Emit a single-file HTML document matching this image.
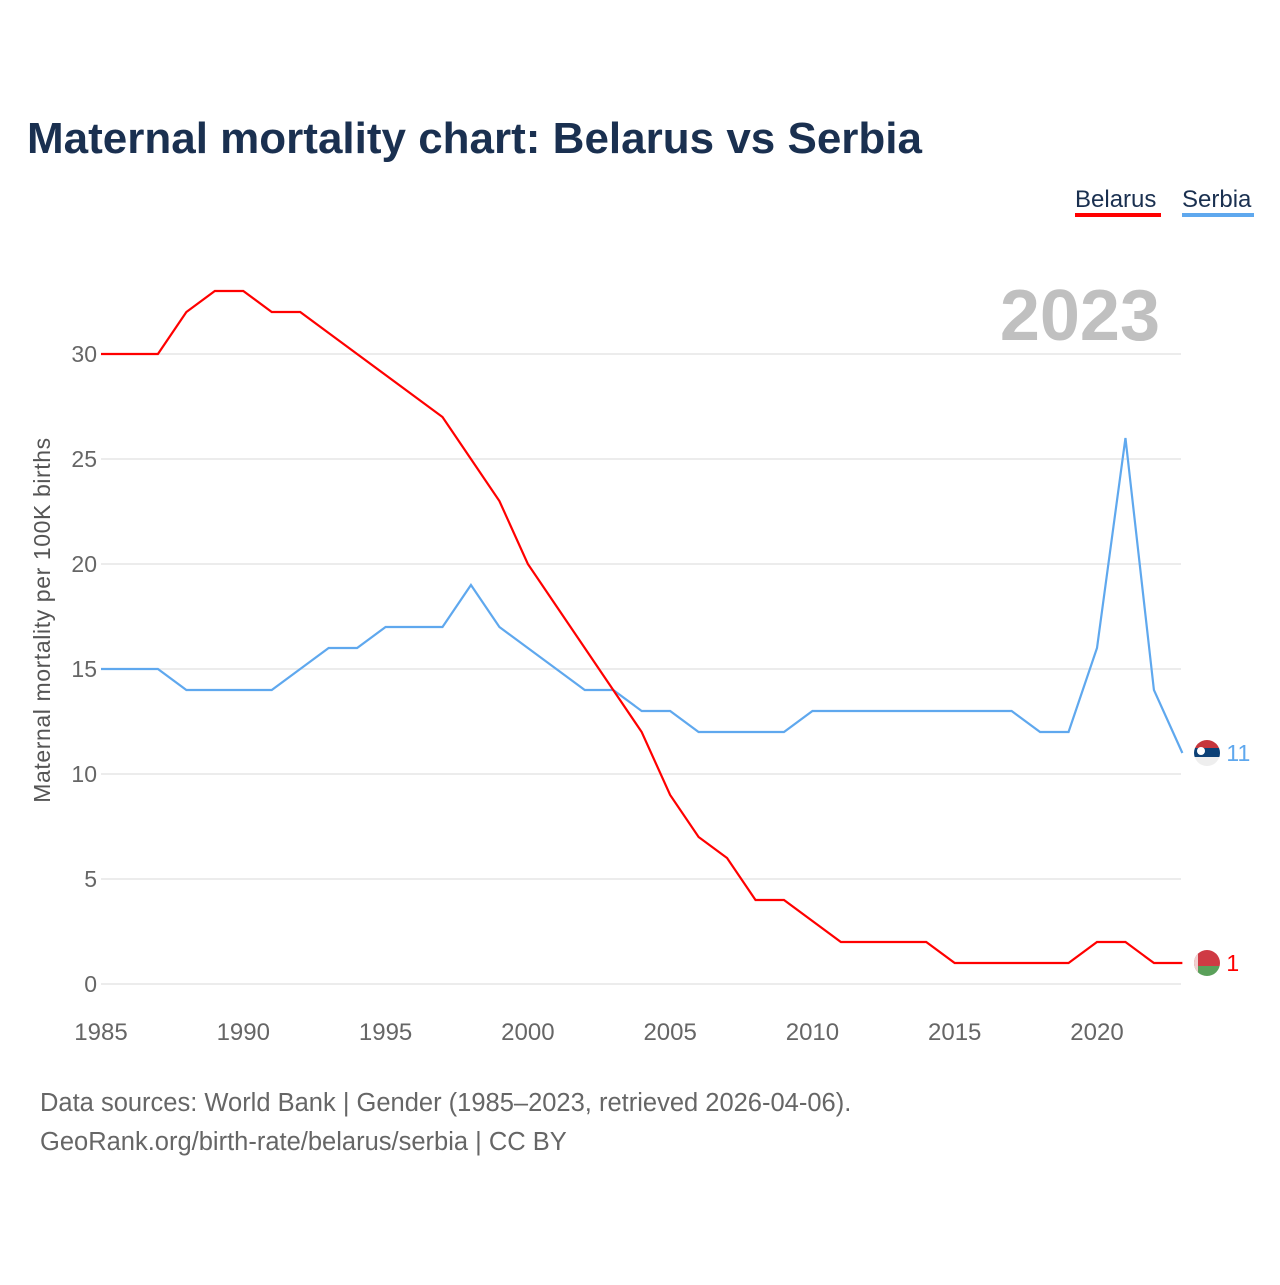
<!DOCTYPE html>
<html><head><meta charset="utf-8">
<style>
body{margin:0;background:#fff;font-family:"Liberation Sans",sans-serif;}
svg text{font-family:"Liberation Sans",sans-serif;}
</style></head>
<body>
<svg width="1280" height="1280" viewBox="0 0 1280 1280">
<defs>
<clipPath id="cS"><circle cx="1207" cy="753" r="13"/></clipPath>
<clipPath id="cB"><circle cx="1207" cy="963" r="13"/></clipPath>
</defs>
<text x="27" y="153" font-size="44" font-weight="bold" fill="#1a3050">Maternal mortality chart: Belarus vs Serbia</text>
<g>
<text x="1075" y="207" font-size="24" fill="#1a3050">Belarus</text>
<rect x="1075" y="213" width="86" height="4" fill="#ff0000"/></g>
<g>
<text x="1182" y="207" font-size="24" fill="#1a3050">Serbia</text>
<rect x="1182" y="213" width="72" height="4" fill="#5fa8ee"/></g>
<text x="1160" y="340" font-size="72" font-weight="bold" fill="#c0c0c0" text-anchor="end">2023</text>
<g id="grid"></g><g id="xt"></g><g id="yt"></g><g id="lines"></g>
<g clip-path="url(#cS)">
<rect x="1190" y="738" width="34" height="10" fill="#c6363c"/><rect x="1190" y="748" width="34" height="9" fill="#0c4076"/><rect x="1190" y="757" width="34" height="10" fill="#eee"/><circle cx="1201" cy="751" r="4" fill="#fff"/></g>
<g clip-path="url(#cB)">
<rect x="1190" y="948" width="34" height="18" fill="#cf3a44"/><rect x="1190" y="966" width="34" height="12" fill="#5aa05a"/><rect x="1193" y="948" width="5" height="30" fill="#f0d0d0"/></g>
<text transform="translate(50,620) rotate(-90)" font-size="23" letter-spacing="0.6" fill="#555" text-anchor="middle">Maternal mortality per 100K births</text>
<text x="40" y="1111" font-size="25.5" fill="#666">Data sources: World Bank | Gender (1985–2023, retrieved 2026-04-06).</text>
<text x="40" y="1150" font-size="25.5" fill="#666">GeoRank.org/birth-rate/belarus/serbia | CC BY</text>
</svg>
<script>
const years=[];for(let y=1985;y<=2023;y++)years.push(y);
const belarus=[30,30,30,32,33,33,32,32,31,30,29,28,27,25,23,20,18,16,14,12,9,7,6,4,4,3,2,2,2,2,1,1,1,1,1,2,2,1,1];
const serbia=[15,15,15,14,14,14,14,15,16,16,17,17,17,19,17,16,15,14,14,13,13,12,12,12,12,13,13,13,13,13,13,13,13,12,12,16,26,14,11];
const yTicks=[0,5,10,15,20,25,30];
const xTicks=[1985,1990,1995,2000,2005,2010,2015,2020];
const NS="http://www.w3.org/2000/svg";
const X=y=>101+(y-1985)*(1097-101)/35;
const Y=v=>984-v*21;
function mk(t,a,p){const e=document.createElementNS(NS,t);for(const k in a)e.setAttribute(k,a[k]);p.appendChild(e);return e;}
const grid=document.getElementById('grid'),yt=document.getElementById('yt'),xt=document.getElementById('xt'),L=document.getElementById('lines');
yTicks.forEach(v=>{
 const l=mk('line',{x1:101,x2:1181,y1:Y(v),y2:Y(v),stroke:'#e6e6e6','stroke-width':1.5},grid);
 
 
 const t=mk('text',{x:97,y:Y(v)+8,'font-size':23,fill:'#666','text-anchor':'end'},yt);t.textContent=v;
 
 
});
xTicks.forEach(v=>{
 const t=mk('text',{x:X(v),y:1040,'font-size':24,fill:'#666','text-anchor':'middle'},xt);t.textContent=v;
 
 
});
function series(vals,color,name,label){
 const p=mk('polyline',{points:vals.map((v,i)=>X(years[i])+','+Y(v)).join(' '),fill:'none',stroke:color,'stroke-width':2.2},L);
 
 
 const lx=X(years[years.length-1]),ly=Y(vals[vals.length-1]);
 const t=mk('text',{x:lx+44,y:ly+8,'font-size':23,fill:color},L);t.textContent=label;
 
 
}
series(serbia,'#5fa8ee','serbia',serbia[serbia.length-1]);
series(belarus,'#ff0000','belarus',belarus[belarus.length-1]);
</script>
</body></html>
